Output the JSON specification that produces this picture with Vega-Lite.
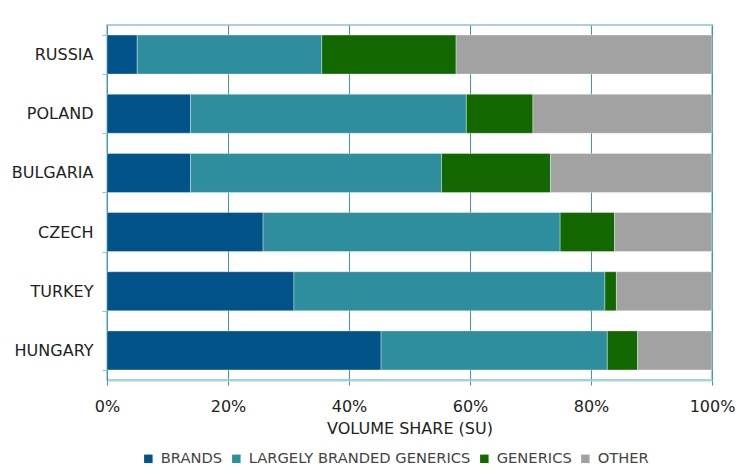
{
  "$schema": "https://vega.github.io/schema/vega-lite/v6.json",
  "width": 605,
  "height": 355,
  "autosize": {"type": "none"},
  "padding": {"left": 107, "top": 25, "right": 25, "bottom": 88},
  "background": "white",
  "config": {
    "font": "DejaVu Sans",
    "view": {"stroke": "#a9d3d9", "strokeWidth": 2},
    "axis": {"labelColor": "#222222", "titleColor": "#222222", "labelFont": "DejaVu Sans", "titleFont": "DejaVu Sans"}
  },
  "data": {
    "values": [
      {"country": "RUSSIA", "segment": "BRANDS", "share": 5.0, "ord": 1},
      {"country": "RUSSIA", "segment": "LARGELY BRANDED GENERICS", "share": 30.5, "ord": 2},
      {"country": "RUSSIA", "segment": "GENERICS", "share": 22.2, "ord": 3},
      {"country": "RUSSIA", "segment": "OTHER", "share": 42.3, "ord": 4},
      {"country": "POLAND", "segment": "BRANDS", "share": 13.8, "ord": 1},
      {"country": "POLAND", "segment": "LARGELY BRANDED GENERICS", "share": 45.6, "ord": 2},
      {"country": "POLAND", "segment": "GENERICS", "share": 11.0, "ord": 3},
      {"country": "POLAND", "segment": "OTHER", "share": 29.6, "ord": 4},
      {"country": "BULGARIA", "segment": "BRANDS", "share": 13.8, "ord": 1},
      {"country": "BULGARIA", "segment": "LARGELY BRANDED GENERICS", "share": 41.5, "ord": 2},
      {"country": "BULGARIA", "segment": "GENERICS", "share": 18.0, "ord": 3},
      {"country": "BULGARIA", "segment": "OTHER", "share": 26.7, "ord": 4},
      {"country": "CZECH", "segment": "BRANDS", "share": 25.8, "ord": 1},
      {"country": "CZECH", "segment": "LARGELY BRANDED GENERICS", "share": 49.1, "ord": 2},
      {"country": "CZECH", "segment": "GENERICS", "share": 9.0, "ord": 3},
      {"country": "CZECH", "segment": "OTHER", "share": 16.1, "ord": 4},
      {"country": "TURKEY", "segment": "BRANDS", "share": 30.9, "ord": 1},
      {"country": "TURKEY", "segment": "LARGELY BRANDED GENERICS", "share": 51.4, "ord": 2},
      {"country": "TURKEY", "segment": "GENERICS", "share": 1.9, "ord": 3},
      {"country": "TURKEY", "segment": "OTHER", "share": 15.8, "ord": 4},
      {"country": "HUNGARY", "segment": "BRANDS", "share": 45.3, "ord": 1},
      {"country": "HUNGARY", "segment": "LARGELY BRANDED GENERICS", "share": 37.4, "ord": 2},
      {"country": "HUNGARY", "segment": "GENERICS", "share": 5.0, "ord": 3},
      {"country": "HUNGARY", "segment": "OTHER", "share": 12.3, "ord": 4}
    ]
  },
  "mark": {"type": "bar", "stroke": "#ffffff", "strokeWidth": 1, "strokeOpacity": 0.35},
  "encoding": {
    "y": {
      "field": "country",
      "type": "nominal",
      "sort": ["RUSSIA", "POLAND", "BULGARIA", "CZECH", "TURKEY", "HUNGARY"],
      "scale": {"paddingInner": 0.34, "paddingOuter": 0.17},
      "axis": {
        "title": null,
        "tickBand": "extent",
        "domainColor": "#3a9baa",
        "tickColor": "#8fc6ce",
        "tickSize": 5,
        "labelFontSize": 16,
        "labelPadding": 9,
        "grid": false
      }
    },
    "x": {
      "field": "share",
      "type": "quantitative",
      "stack": "normalize",
      "scale": {"domain": [0, 1], "nice": false},
      "axis": {
        "title": "VOLUME SHARE (SU)",
        "format": ".0%",
        "values": [0, 0.2, 0.4, 0.6, 0.8, 1],
        "grid": true,
        "gridColor": "#3a9baa",
        "gridWidth": 1,
        "gridOpacity": 1,
        "domainColor": "#a9d3d9",
        "domainWidth": 2,
        "tickColor": "#3a9baa",
        "tickSize": 5,
        "labelFontSize": 16,
        "labelPadding": 13,
        "labelFlush": false,
        "titleFontSize": 16,
        "titleFontWeight": "normal",
        "titlePadding": 6
      }
    },
    "color": {
      "field": "segment",
      "type": "nominal",
      "scale": {
        "domain": ["BRANDS", "LARGELY BRANDED GENERICS", "GENERICS", "OTHER"],
        "range": ["#01538a", "#2e8e9e", "#126700", "#a2a2a2"]
      },
      "legend": {
        "title": null,
        "orient": "none",
        "direction": "horizontal",
        "legendX": 34,
        "legendY": 426,
        "symbolType": "square",
        "symbolSize": 72,
        "symbolStrokeWidth": 0,
        "labelFontSize": 14.7,
        "labelLimit": 0,
        "labelColor": "#444444",
        "labelOffset": 5,
        "columnPadding": 6
      }
    },
    "order": {"field": "ord", "type": "quantitative"}
  }
}
